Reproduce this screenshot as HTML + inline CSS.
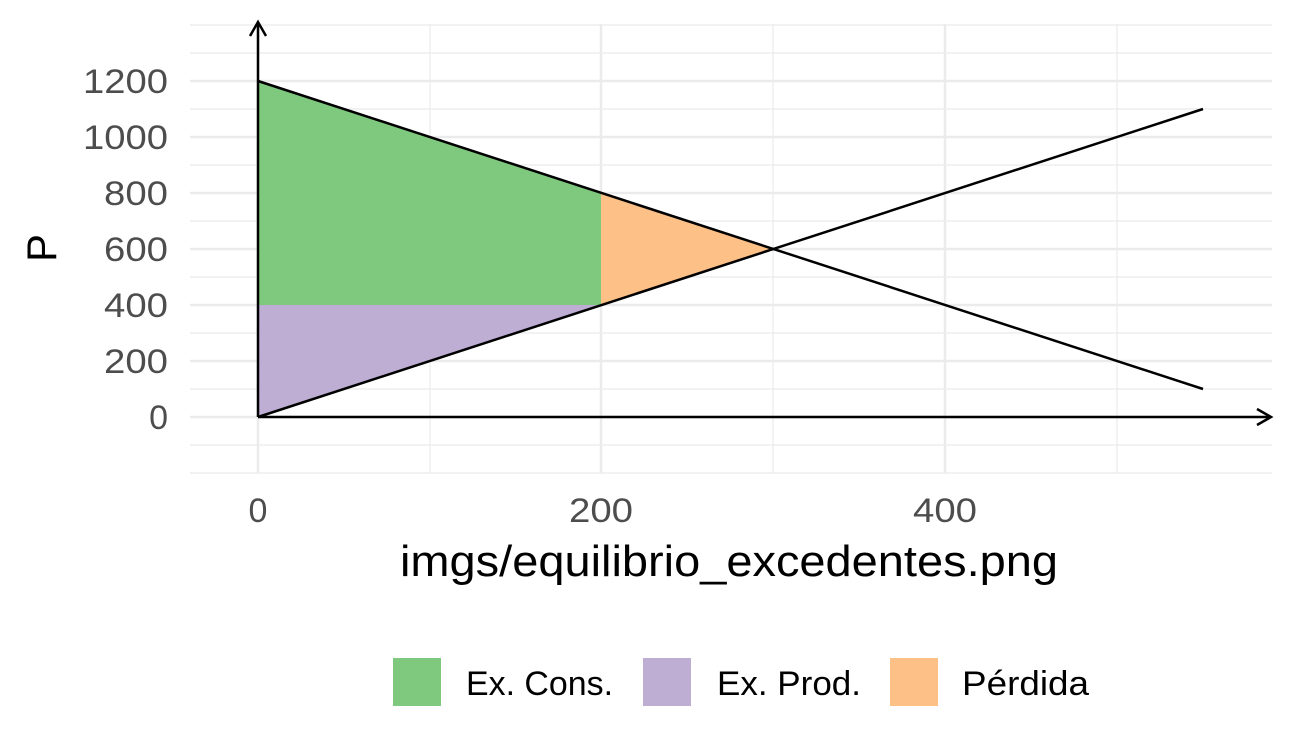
<!DOCTYPE html>
<html><head><meta charset="utf-8"><style>
body{margin:0;background:#fff}
svg{display:block}
text{font-family:"Liberation Sans",sans-serif}
</style></head><body>
<svg width="1296" height="756" viewBox="0 0 1296 756" xmlns="http://www.w3.org/2000/svg">
<rect width="1296" height="756" fill="#fff"/>
<g stroke="#ebebeb" stroke-width="1.2">
<line x1="190" x2="1272" y1="473" y2="473"/><line x1="190" x2="1272" y1="445" y2="445"/>
<line x1="190" x2="1272" y1="389" y2="389"/><line x1="190" x2="1272" y1="333" y2="333"/>
<line x1="190" x2="1272" y1="277" y2="277"/><line x1="190" x2="1272" y1="221" y2="221"/>
<line x1="190" x2="1272" y1="165" y2="165"/><line x1="190" x2="1272" y1="109" y2="109"/>
<line x1="190" x2="1272" y1="53" y2="53"/><line x1="190" x2="1272" y1="25" y2="25"/>
<line x1="430" x2="430" y1="24" y2="473"/><line x1="773" x2="773" y1="24" y2="473"/><line x1="1117" x2="1117" y1="24" y2="473"/>
</g>
<g stroke="#ebebeb" stroke-width="2.5">
<line x1="190" x2="1272" y1="417" y2="417"/><line x1="190" x2="1272" y1="361" y2="361"/>
<line x1="190" x2="1272" y1="305" y2="305"/><line x1="190" x2="1272" y1="249" y2="249"/>
<line x1="190" x2="1272" y1="193" y2="193"/><line x1="190" x2="1272" y1="137" y2="137"/>
<line x1="190" x2="1272" y1="81" y2="81"/>
<line x1="258" x2="258" y1="24" y2="473"/><line x1="601" x2="601" y1="24" y2="473"/><line x1="945" x2="945" y1="24" y2="473"/>
</g>
<polygon points="258,81 601,193 601,305 258,305" fill="#7fc97f"/>
<polygon points="258,305 601,305 258,417" fill="#beaed4"/>
<polygon points="601,193 773,249 601,305" fill="#fdc086"/>
<g stroke="#000" stroke-width="2.5" fill="none">
<line x1="258" y1="417" x2="1203" y2="109"/>
<line x1="258" y1="81" x2="1203" y2="389"/>
<line x1="258" y1="417" x2="258" y2="22"/>
<polyline points="250,36 258,22 266,36"/>
<line x1="258" y1="417" x2="1271" y2="417"/>
<polyline points="1257,409 1271,417 1257,425"/>
</g>
<g font-size="34" fill="#4d4d4d" text-anchor="end" lengthAdjust="spacingAndGlyphs">
<text x="168" y="429">0</text><text x="168" y="373" textLength="64" lengthAdjust="spacingAndGlyphs">200</text><text x="168" y="317" textLength="64" lengthAdjust="spacingAndGlyphs">400</text>
<text x="168" y="261" textLength="64" lengthAdjust="spacingAndGlyphs">600</text><text x="168" y="205" textLength="64" lengthAdjust="spacingAndGlyphs">800</text><text x="168" y="149" textLength="85" lengthAdjust="spacingAndGlyphs">1000</text><text x="168" y="93" textLength="85" lengthAdjust="spacingAndGlyphs">1200</text>
</g>
<g font-size="34" fill="#4d4d4d" text-anchor="middle">
<text x="258" y="522">0</text><text x="601" y="522" textLength="64" lengthAdjust="spacingAndGlyphs">200</text><text x="945" y="522" textLength="64" lengthAdjust="spacingAndGlyphs">400</text>
</g>
<text x="400" y="576" font-size="44" textLength="658" lengthAdjust="spacingAndGlyphs">imgs/equilibrio_excedentes.png</text>
<text transform="translate(56,248) rotate(-90)" font-size="42" text-anchor="middle">P</text>
<rect x="393" y="658" width="48" height="48" fill="#7fc97f"/>
<text x="466" y="695" font-size="34" textLength="147" lengthAdjust="spacingAndGlyphs">Ex. Cons.</text>
<rect x="643" y="658" width="48" height="48" fill="#beaed4"/>
<text x="717" y="695" font-size="34" textLength="144" lengthAdjust="spacingAndGlyphs">Ex. Prod.</text>
<rect x="890" y="658" width="48" height="48" fill="#fdc086"/>
<text x="962" y="695" font-size="34" textLength="127" lengthAdjust="spacingAndGlyphs">Pérdida</text>
</svg>
</body></html>
